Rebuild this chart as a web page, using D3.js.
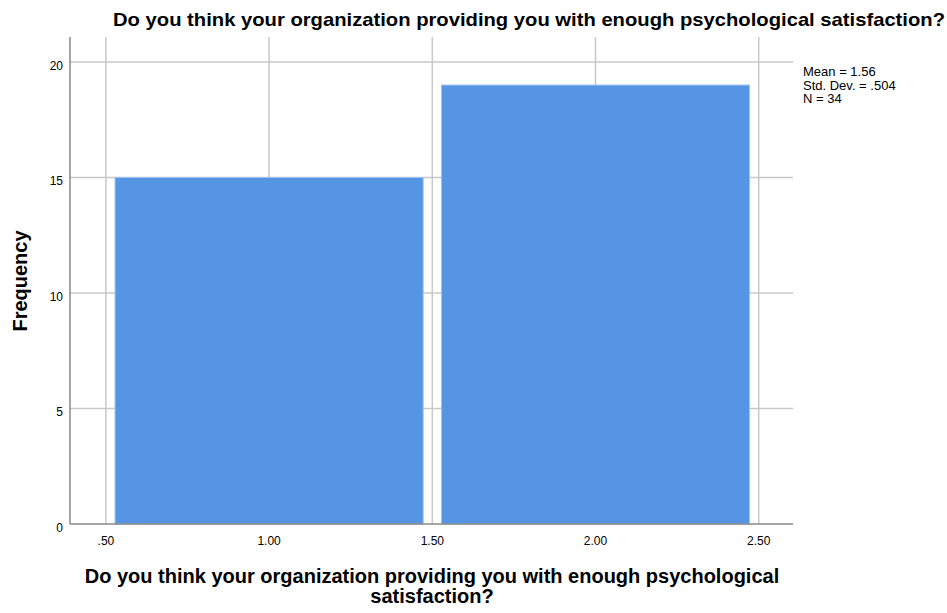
<!DOCTYPE html>
<meta charset="utf-8">
<style>
  body { margin: 0; background: #fff; font-family: "Liberation Sans", Arial, sans-serif; }
  .grid line { stroke: #c8c8c8; stroke-width: 1.5; }
</style>
<script src="https://d3js.org/d3.v7.min.js"></script>
<body>
</body>
<script>
// histogram data
var binCenters = [1, 2];
var frequencies = [15, 19];
var xTicks = [0.5, 1, 1.5, 2, 2.5];
var yTicks = [0, 5, 10, 15, 20];
var statLines = ["Mean = 1.56", "Std. Dev. = .504", "N = 34"];
var title = "Do you think your organization providing you with enough psychological satisfaction?";
var xLabel = ["Do you think your organization providing you with enough psychological", "satisfaction?"];

var width = 947, height = 613;
var plotLeft = 70, plotRight = 793, plotTop = 37, plotBottom = 524;

var svg = d3.select("body").append("svg")
    .attr("width", width)
    .attr("height", height);

var x = d3.scaleLinear().domain([0.39, 2.605]).range([plotLeft, plotRight]);
var y = d3.scaleLinear().domain([0, 21.08]).range([plotBottom, plotTop]);

// gridlines
var grid = svg.append("g").attr("class", "grid");
grid.selectAll(".vg").data(xTicks).enter().append("line")
    .attr("x1", function(d) { return x(d); })
    .attr("x2", function(d) { return x(d); })
    .attr("y1", plotTop).attr("y2", plotBottom);
grid.selectAll(".hg").data(yTicks.slice(1)).enter().append("line")
    .attr("x1", plotLeft).attr("x2", plotRight)
    .attr("y1", function(d) { return y(d); })
    .attr("y2", function(d) { return y(d); });

// bars
var inset = 0.028;
svg.selectAll(".bar").data(binCenters).enter().append("rect")
    .attr("x", function(d) { return x(d - 0.5 + inset); })
    .attr("width", function(d) { return x(d + 0.5 - inset) - x(d - 0.5 + inset); })
    .attr("y", function(d, i) { return y(frequencies[i]); })
    .attr("height", function(d, i) { return y(0) - y(frequencies[i]); })
    .attr("fill", "#5595e3")
    .attr("stroke", "#9cc2f0")
    .attr("stroke-width", 1);

// axis lines
svg.append("line").attr("x1", plotLeft).attr("x2", plotLeft).attr("y1", plotTop).attr("y2", plotBottom)
    .attr("stroke", "#888").attr("stroke-width", 1.5);
svg.append("line").attr("x1", plotLeft).attr("x2", plotRight).attr("y1", plotBottom).attr("y2", plotBottom)
    .attr("stroke", "#888").attr("stroke-width", 1.5);

// tick labels
svg.selectAll(".yt").data(yTicks).enter().append("text")
    .attr("x", plotLeft - 7)
    .attr("y", function(d) { return y(d) + 8; })
    .attr("text-anchor", "end")
    .style("font-size", "12px")
    .text(function(d) { return d; });

svg.selectAll(".xt").data(xTicks).enter().append("text")
    .attr("x", function(d) { return x(d); })
    .attr("y", 545)
    .attr("text-anchor", "middle")
    .style("font-size", "12px")
    .text(function(d) { return d3.format(".2f")(d).replace(/^0\./, "."); });

// title
svg.append("text")
    .attr("x", 529).attr("y", 26)
    .attr("text-anchor", "middle")
    .style("font-size", "19px").style("font-weight", "bold")
    .attr("textLength", 832).attr("lengthAdjust", "spacingAndGlyphs")
    .text(title);

// y label
svg.append("text")
    .attr("transform", "translate(27,281) rotate(-90)")
    .attr("text-anchor", "middle")
    .style("font-size", "20px").style("font-weight", "bold")
    .text("Frequency");

// x label
svg.selectAll(".xl").data(xLabel).enter().append("text")
    .attr("x", 432)
    .attr("y", function(d, i) { return 583 + i * 20; })
    .attr("text-anchor", "middle")
    .style("font-size", "20px").style("font-weight", "bold")
    .text(function(d) { return d; });

// stats box
svg.selectAll(".st").data(statLines).enter().append("text")
    .attr("x", 803)
    .attr("y", function(d, i) { return 76 + i * 13.5; })
    .style("font-size", "13px")
    .text(function(d) { return d; });
</script>
